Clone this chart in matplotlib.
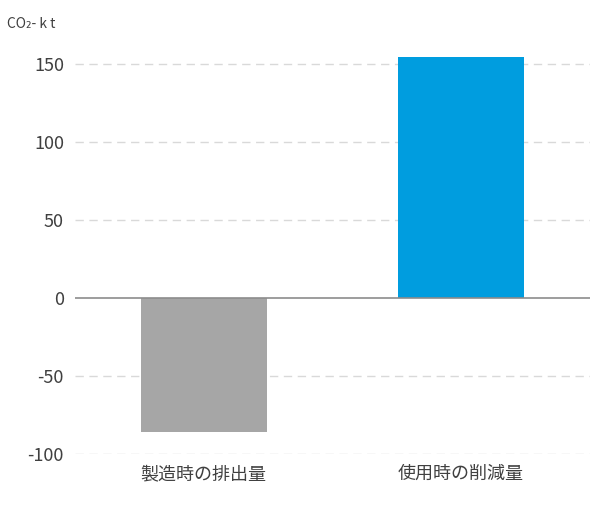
import matplotlib.pyplot as plt

plt.rcParams['font.family'] = ['Noto Sans CJK JP', 'DejaVu Sans']

categories = ["製造時の排出量", "使用時の削減量"]
values = [-86, 154.5]
colors = ["#a6a6a6", "#009ddf"]
yticks = [-100, -50, 0, 50, 100, 150]

fig = plt.figure(figsize=(6, 5.09), dpi=100)
ax = fig.add_axes([0.125, 0.108, 0.858, 0.797])

ax.bar(range(len(categories)), values, width=0.49, color=colors, zorder=3)
ax.set_xlim(-0.5, 1.5)
ax.set_ylim(-100, 160)
ax.set_yticks(yticks)
ax.set_yticklabels([str(v) for v in yticks], fontsize=13, color="#404040")
ax.set_xticks(range(len(categories)))
ax.set_xticklabels(categories, fontsize=13, color="#404040")
ax.tick_params(length=0, pad=8)

for v in yticks:
    if v != 0:
        ax.axhline(v, color="#d9d9d9", lw=1, ls=(0, (6, 4)), zorder=1)
ax.axhline(0, color="#8c8c8c", lw=1.2, zorder=4)

for s in ax.spines.values():
    s.set_visible(False)

fig.text(0.012, 0.945, "CO₂- k t", fontsize=10, color="#404040")

fig.savefig("out.png")
